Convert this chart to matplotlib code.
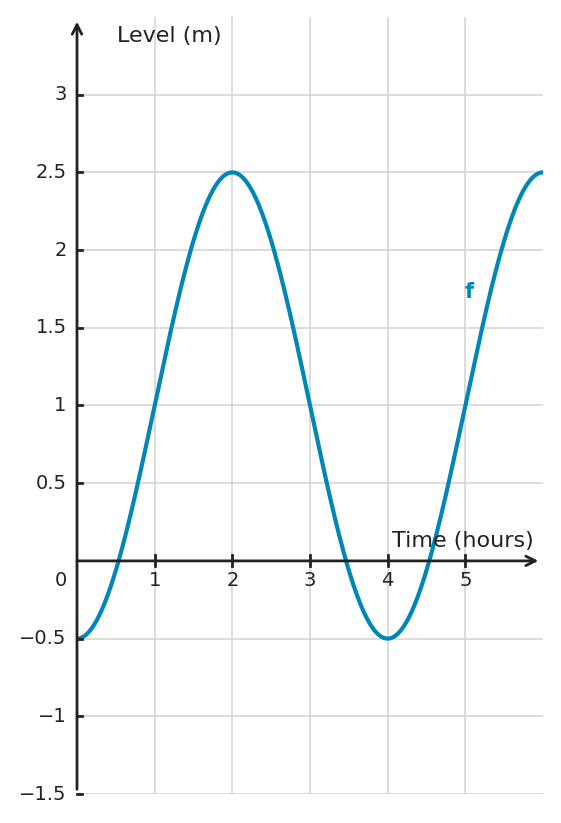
import numpy as np
import matplotlib
matplotlib.use("Agg")
import matplotlib.pyplot as plt

# Data: tide level model f(t) = midline - amplitude*cos(2*pi*t/period)
midline = 1.0
amplitude = 1.5
period = 4.0
t_start, t_end = 0.0, 6.0

x_ticks = [1, 2, 3, 4, 5]
x_tick_labels = ["1", "2", "3", "4", "5"]
y_ticks = [-1.5, -1, -0.5, 0.5, 1, 1.5, 2, 2.5, 3]
y_tick_labels = ["\u22121.5", "\u22121", "\u22120.5", "0.5", "1", "1.5", "2", "2.5", "3"]

t = np.linspace(t_start, t_end, 600)
level = midline - amplitude * np.cos(2 * np.pi * t / period)

color = "#0086b8"
dark = "#222222"
grid = "#d6d6d6"

fig = plt.figure(figsize=(5.61, 8.23), dpi=100)
ax = fig.add_axes([77 / 561, 29 / 823, (543 - 77) / 561, (794 - 17) / 823])
ax.set_xlim(0, 6)
ax.set_ylim(-1.5, 3.5)
for s in ax.spines.values():
    s.set_visible(False)
ax.set_xticks([])
ax.set_yticks([])

for xv in x_ticks:
    ax.axvline(xv, color=grid, lw=1.2, zorder=0)
for yv in y_ticks:
    ax.axhline(yv, color=grid, lw=1.2, zorder=0)

ax.plot(t, level, color=color, lw=3, zorder=3, solid_capstyle="butt", clip_on=False)

# axes with arrows
ax.annotate("", xy=(5.94, 0), xytext=(0, 0),
            arrowprops=dict(arrowstyle="->", color=dark, lw=2, mutation_scale=17,
                            shrinkA=0, shrinkB=0),
            annotation_clip=False, zorder=4)
ax.annotate("", xy=(0, 3.47), xytext=(0, -1.47),
            arrowprops=dict(arrowstyle="->", color=dark, lw=2, mutation_scale=17,
                            shrinkA=0, shrinkB=0),
            annotation_clip=False, zorder=4)

# tick marks
fs_tick = 14
for xv, lab in zip(x_ticks, x_tick_labels):
    ax.plot([xv, xv], [-0.035, 0.035], color=dark, lw=2, zorder=4, clip_on=False)
    ax.text(xv, -0.125, lab, ha="center", va="center", fontsize=fs_tick, color=dark)
for yv, lab in zip(y_ticks, y_tick_labels):
    ax.plot([0, 0.07], [yv, yv], color=dark, lw=2, zorder=4, clip_on=False)
    ax.text(-0.135, yv, lab, ha="right", va="center", fontsize=fs_tick, color=dark)
ax.text(-0.135, -0.125, "0", ha="right", va="center", fontsize=fs_tick, color=dark)

ax.text(0.52, 3.375, "Level (m)", ha="left", va="center", fontsize=16, color=dark)
ax.text(5.88, 0.13, "Time (hours)", ha="right", va="center", fontsize=16, color=dark)
ax.text(5.05, 1.73, "f", ha="center", va="center", fontsize=15, color=color,
        fontweight="bold")

fig.savefig("out.png", dpi=100)
